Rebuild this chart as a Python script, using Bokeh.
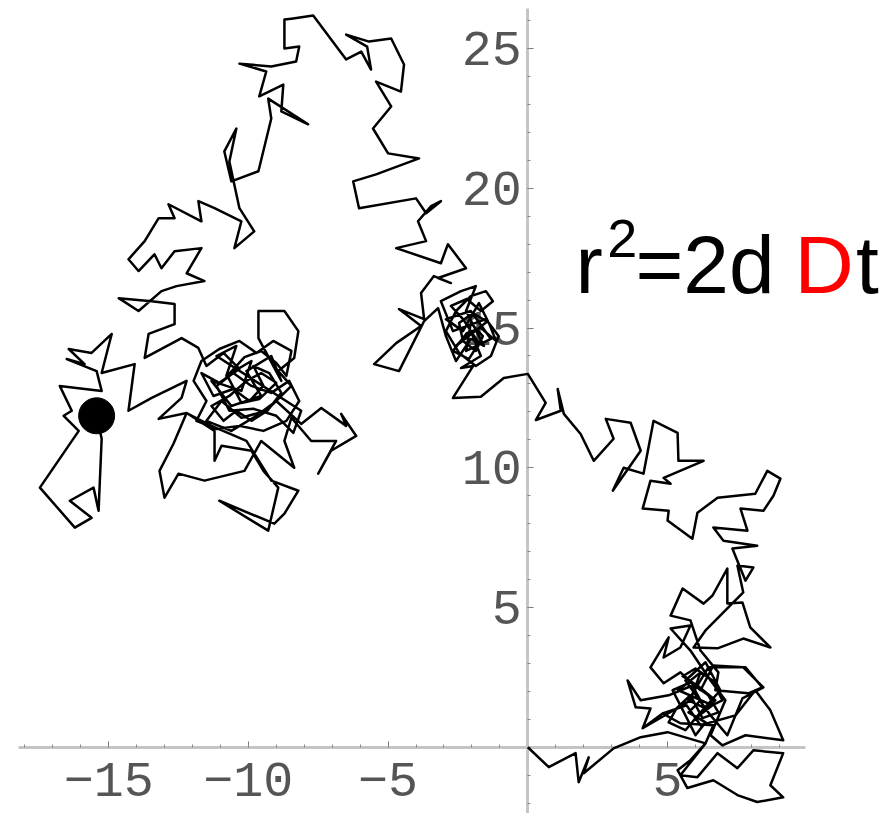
from bokeh.plotting import figure
from bokeh.models import FixedTicker, Label, Range1d
from bokeh.embed import file_html
from bokeh.resources import INLINE

# ---- random-walk path (data units) ----
path_x = [
    0, 0.75, 1.71, 1.82, 2.18, 2.0, 3.07, 4.04, 5.0, 6.36,
    5.82, 5.36, 5.71, 6.64, 7.5, 8.21, 9.14, 8.68, 9.14, 8.07,
    7.5, 6.79, 6.07, 5.46, 6.36, 6.64, 5.46, 4.82, 4.11, 5.82,
    6.18, 5.39, 6.61, 6.0, 6.89, 6.36, 5.64, 6.54, 7.14, 7.68,
    8.43, 7.71, 6.64, 6.18, 5.46, 4.86, 4.39, 5.04, 4.86, 5.46,
    5.82, 5.11, 5.82, 6.54, 7.07, 6.54, 6.96, 7.79, 9.14, 8.68,
    8.14, 7.43, 6.18, 5.68, 4.82, 4.11, 4.39, 3.86, 3.57, 4.04,
    5.04, 5.89, 6.82, 6.18, 5.82, 5.11, 5.54, 6.29, 6.61, 7.14,
    7.14, 7.68, 7.96, 8.68, 7.71, 6.79, 5.93, 6.36, 7.71, 7.5,
    8.07, 7.79, 7.32, 8.21, 7.0, 6.64, 7.86, 7.61, 8.43, 8.79,
    9.04, 8.57, 8.14, 6.79, 6.07, 5.89, 5.0, 5.04, 4.11, 4.39,
    5.11, 4.86, 6.29, 5.39, 5.36, 4.5, 4.14, 3.43, 3.04, 4.04,
    3.68, 2.79, 3.07, 2.36, 1.89, 1.29, 1.07, 1.18, 0.29, 0.64,
    0.0, -0.86, -1.68, -2.68, -1.96, -2.39, -1.68, -2.04, -2.57, -1.43,
    -1.75, -2.32, -2.93, -2.04, -1.32, -2.21, -2.68, -3.11, -2.39, -1.86,
    -2.21, -1.57, -2.04, -2.57, -2.93, -3.21, -3.71, -3.89, -4.61, -5.5,
    -4.71, -3.82, -4.61, -3.71, -3.82, -3.36, -2.75, -3.21, -2.21, -2.86,
    -3.11, -4.71, -3.64, -3.93, -3.46, -3.11, -3.64, -4.0, -6.04, -6.25,
    -5.43, -3.89, -5.0, -5.54, -4.89, -5.43, -4.54, -4.43, -4.89, -5.68,
    -6.5, -5.75, -5.61, -5.96, -6.5, -7.68, -8.46, -8.71, -8.71, -8.18,
    -8.29, -9.18, -10.32, -9.36, -9.61, -8.75, -8.82, -7.86, -9.29, -9.18,
    -9.64, -10.61, -10.86, -10.43, -10.68, -10.32, -9.79, -10.5, -10.25, -11.21,
    -11.79, -11.68, -12.86, -12.64, -13.21, -13.71, -14.29, -13.93, -13.36, -13.11,
    -12.64, -11.68, -12.21, -11.57, -12.57, -13.11, -13.93, -14.64, -13.46, -12.64,
    -12.64, -13.57, -13.71, -12.39, -11.79, -11.14, -10.43, -10.79, -9.89, -10.25,
    -11.32, -10.61, -9.54, -10.07, -9.18, -8.82, -9.64, -9.64, -8.71, -8.21,
    -8.36, -8.93, -8.46, -9.36, -10.25, -10.96, -11.5, -10.61, -9.71, -9.0,
    -8.11, -7.39, -6.5, -6.68, -6.14, -7.04, -7.5, -6.86, -7.75, -8.46,
    -8.71, -8.36, -9.54, -10.14, -11.57, -12.5, -13.0, -13.18, -12.68, -12.21,
    -11.21, -11.21, -10.96, -9.89, -9.46, -8.93, -9.29, -11.04, -9.07, -8.71,
    -8.21, -9.18, -10.07, -11.32, -12.21, -13.21, -12.39, -12.21, -13.46, -14.29,
    -14.07, -15.25, -14.89, -15.61, -16.43, -15.86, -16.5, -15.43, -15.25, -16.75,
    -16.32, -16.61, -16.07, -17.46, -16.21, -15.61, -16.39, -15.54, -15.36, -15.25,
    -15.43,
]
path_y = [
    0, -0.71, -0.21, -1.25, -0.36, -0.93, -0.04, 0.36, 0.54, 0.14,
    -0.46, -0.82, -1.46, -1.18, -1.71, -1.96, -1.79, -1.36, -0.21, -0.11,
    -0.75, -0.21, -1.07, -1.0, 0.14, 0.79, 0.86, 1.21, 0.68, 1.68,
    2.68, 2.04, 1.5, 1.04, 2.04, 3.04, 2.39, 1.14, 0.43, 1.75,
    2.14, 2.86, 2.93, 2.04, 2.68, 2.29, 2.86, 3.93, 3.21, 3.57,
    4.36, 4.25, 3.46, 2.39, 1.68, 0.43, 0.07, 0.43, 0.25, 1.32,
    2.04, 1.14, 0.79, 1.5, 1.21, 0.68, 1.39, 1.43, 2.39, 1.68,
    1.86, 2.21, 2.68, 3.46, 4.54, 4.71, 5.68, 5.14, 5.43, 6.39,
    5.14, 5.18, 4.29, 3.57, 3.89, 3.54, 3.57, 4.18, 5.54, 6.5,
    6.43, 5.96, 7.11, 7.21, 7.39, 7.86, 7.75, 8.54, 8.46, 9.0,
    9.61, 9.89, 9.07, 8.93, 8.39, 7.46, 8.11, 8.46, 8.54, 9.54,
    9.43, 9.64, 10.25, 10.25, 11.25, 11.68, 9.79, 10.0, 9.18, 10.61,
    11.61, 11.75, 11.04, 10.25, 11.21, 11.93, 12.82, 12.04, 11.71, 12.32,
    13.36, 13.21, 12.54, 12.5, 13.64, 13.57, 14.0, 14.89, 14.36, 15.25,
    15.89, 14.89, 15.32, 15.61, 14.61, 14.18, 14.89, 15.96, 16.32, 16.5,
    15.61, 14.36, 14.61, 13.82, 14.71, 15.71, 15.25, 14.89, 13.46, 13.71,
    14.46, 15.07, 15.68, 15.32, 16.25, 16.86, 16.61, 16.79, 17.14, 18.0,
    17.32, 17.86, 18.11, 18.82, 19.36, 19.54, 19.11, 19.64, 19.29, 20.25,
    20.5, 21.07, 21.25, 22.14, 22.93, 23.82, 23.46, 24.43, 25.36, 25.25,
    25.5, 25.07, 24.25, 24.89, 24.61, 26.18, 26.07, 26.04, 25.0, 25.07,
    24.54, 24.36, 24.46, 24.18, 23.29, 23.71, 22.75, 22.29, 23.21, 22.5,
    20.61, 20.25, 21.32, 22.14, 20.96, 19.29, 18.46, 17.86, 18.82, 19.29,
    19.54, 18.82, 19.43, 18.93, 18.93, 18.11, 17.46, 17.04, 17.64, 17.14,
    17.75, 17.86, 16.96, 16.68, 16.5, 16.32, 15.61, 16.07, 15.96, 15.86,
    15.14, 14.79, 13.93, 14.64, 14.29, 14.0, 14.36, 13.29, 13.82, 12.75,
    13.11, 12.21, 12.57, 13.46, 14.0, 13.11, 14.64, 15.61, 15.61, 14.89,
    13.93, 13.46, 12.93, 12.04, 11.79, 12.39, 11.68, 11.32, 11.86, 12.39,
    11.57, 12.14, 11.5, 11.93, 11.14, 10.61, 9.79, 10.96, 10.96, 11.79,
    10.96, 10.0, 10.96, 9.89, 9.54, 9.79, 8.93, 9.89, 10.86, 11.96,
    11.32, 10.25, 10.79, 10.61, 9.89, 9.29, 7.75, 8.82, 8.0, 8.36,
    9.18, 9.54, 10.96, 11.5, 11.96, 11.75, 12.5, 13.11, 12.5, 12.04,
    13.71, 13.39, 14.79, 14.11, 14.25, 13.71, 13.89, 13.46, 12.75, 12.93,
    12.04, 11.86, 11.32, 9.29, 7.86, 8.21, 8.82, 9.29, 8.46, 11.04,
    11.86,
]

# dense tangle in the lower-right cluster
br_x = [6.18, 5.75, 6.36, 6.0, 5.46, 5.18, 5.82, 6.46, 6.82, 6.25,
        5.82, 5.32, 5.04, 5.64, 6.18, 6.71, 6.11, 5.54, 6.0, 6.61,
        6.96, 6.36, 5.75, 6.46, 7.79, 8.39, 7.89, 6.71]
br_y = [1.68, 1.25, 0.89, 0.43, 1.5, 2.04, 2.32, 1.86, 1.25, 1.04,
        1.86, 1.39, 0.89, 0.61, 1.25, 1.68, 2.18, 2.54, 2.82, 2.39,
        1.68, 1.39, 1.68, 2.86, 2.86, 2.14, 1.93, 2.04]
# dense tangle in the middle-upper cluster
mu_x = [-2.04, -1.61, -1.86, -2.32, -2.46, -1.96, -1.39, -1.14, -1.68,
        -2.18, -2.68, -2.11, -1.75, -2.32, -2.75, -2.18, -1.68,
        -1.25, -1.5, -2.04, -2.57, -2.93, -2.46, -1.86, -1.32, -1.04, -1.5]
mu_y = [15.18, 14.71, 14.18, 14.54, 15.18, 15.54, 15.18, 14.54, 15.0,
        14.82, 14.18, 13.89, 14.46, 15.32, 15.79, 16.04, 15.61,
        15.96, 16.32, 16.14, 15.61, 14.89, 14.11, 13.64, 14.0, 14.71, 15.32]
# dense tangle in the left-middle cluster
lm_x = [-11.5, -10.89, -10.32, -11.04, -11.68, -11.25, -10.54, -9.96, -9.46,
        -9.82, -9.25, -8.82, -9.32, -9.89, -10.43, -10.89, -11.32, -10.68,
        -10.07, -9.54, -9.0, -9.61, -10.25, -10.75, -10.14, -9.54, -9.0, -8.64,
        -8.46, -9.11, -9.71, -10.32, -11.04, -11.68, -11.96, -11.5, -11.86,
        -11.14, -10.32, -9.46, -8.64, -8.18, -8.54, -9.18, -9.89, -10.54,
        -11.14, -10.68, -9.82, -9.0, -8.39, -8.11]
lm_y = [13.64, 14.11, 13.54, 13.04, 13.39, 12.57, 12.82, 12.39, 12.93,
        13.64, 13.39, 12.68, 12.04, 11.68, 12.04, 11.68, 12.21, 12.57,
        13.11, 13.39, 13.04, 12.46, 12.32, 13.29, 13.96, 14.18, 13.75, 13.29,
        14.18, 14.54, 14.11, 14.54, 14.25, 13.82, 13.11, 12.39, 11.68,
        11.39, 11.5, 11.32, 11.68, 12.39, 13.11, 12.68, 12.93, 13.39,
        12.93, 12.04, 12.11, 11.86, 11.25, 12.04]

walk_x = path_x[:72] + br_x + path_x[72:146] + mu_x + path_x[146:245] + lm_x + path_x[245:]
walk_y = path_y[:72] + br_y + path_y[72:146] + mu_y + path_y[146:245] + lm_y + path_y[245:]

x_ticks = [-15, -10, -5, 5]
y_ticks = [5, 10, 15, 20, 25]
x_tick_labels = ["\u221215", "\u221210", "\u22125", "5"]
y_tick_labels = ["5", "10", "15", "20", "25"]
x_minor = list(range(-18, 10))
y_minor = list(range(-2, 27))

p = figure(width=885, height=813, output_backend="svg", toolbar_location=None,
           x_range=Range1d(-18.87, 12.80), y_range=Range1d(-2.37, 26.72),
           min_border=0, background_fill_color="white",
           border_fill_color="white")
p.outline_line_color = None
p.grid.visible = False

xa = p.xaxis[0]
ya = p.yaxis[0]
xa.ticker = FixedTicker(ticks=x_ticks, minor_ticks=x_minor)
ya.ticker = FixedTicker(ticks=y_ticks, minor_ticks=y_minor)
xa.major_label_overrides = {t: s for t, s in zip(x_ticks, x_tick_labels)}
ya.major_label_overrides = {t: s for t, s in zip(y_ticks, y_tick_labels)}
xa.bounds = (-18.22, 9.94)
ya.bounds = (-2.37, 26.43)
for ax, standoff in ((xa, 16), (ya, 6)):
    ax.fixed_location = 0
    ax.level = "underlay"
    ax.axis_line_color = "#c4c4c4"
    ax.axis_line_width = 3
    ax.major_tick_in = 6
    ax.major_tick_out = 0
    ax.minor_tick_in = 3
    ax.minor_tick_out = 0
    ax.major_tick_line_color = "#777777"
    ax.minor_tick_line_color = "#888888"
    ax.major_tick_line_width = 1
    ax.minor_tick_line_width = 1
    ax.major_label_text_font = "Liberation Mono"
    ax.major_label_text_font_size = "50px"
    ax.major_label_text_color = "#555555"
    ax.major_label_standoff = standoff

p.line(walk_x, walk_y, line_color="black", line_width=2.5, line_join="round")
p.scatter([walk_x[-1]], [walk_y[-1]], size=36, fill_color="black",
          line_color="black")

font = "Liberation Sans"
base_y = 17.27
for txt, xx, yy, size, col in (
        ("r", 1.71, base_y, "82px", "black"),
        ("2", 2.84, 18.2, "54px", "black"),
        ("=2d", 3.85, base_y, "82px", "black"),
        ("D", 9.54, base_y, "82px", "#ff0000"),
        ("t", 11.74, base_y, "82px", "black")):
    p.add_layout(Label(x=xx, y=yy, text=txt, text_font=font,
                       text_font_size=size, text_color=col,
                       text_align="left", text_baseline="alphabetic"))

open("out.html", "w").write(file_html(p, INLINE))
